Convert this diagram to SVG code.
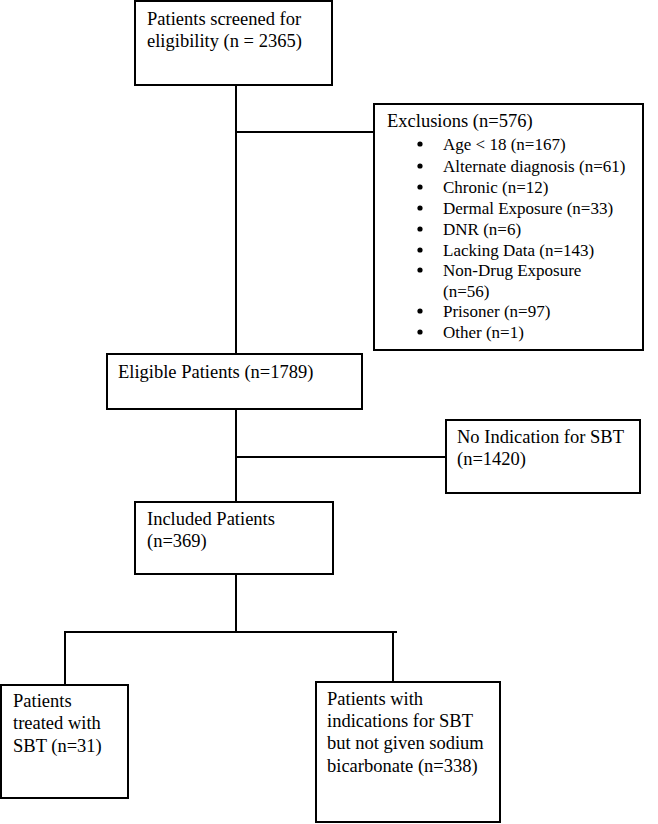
<svg xmlns="http://www.w3.org/2000/svg" width="658" height="824" viewBox="0 0 658 824">
<style>
.box{fill:#fff;stroke:#000;stroke-width:2}
.ln{fill:none;stroke:#000;stroke-width:2}
text{font-family:'Liberation Serif',Tinos,'Times New Roman','DejaVu Serif',serif;font-size:18.5px;fill:#000}
text.it{font-size:17px}
.dot{fill:#000}
</style>
<rect width="658" height="824" fill="#fff"/>
<g id="connectors">
<path class="ln" d="M236 85 V354"/>
<path class="ln" d="M236 132 H374"/>
<path class="ln" d="M236 409 V502"/>
<path class="ln" d="M236 457 H446"/>
<path class="ln" d="M236 574 V632"/>
<path class="ln" d="M64 632 H397"/>
<path class="ln" d="M65 631 V688"/>
<path class="ln" d="M393 631 V682"/>
</g>
<g id="screened">
<rect class="box" x="135" y="1" width="197" height="84"/>
<text x="147" y="25">Patients screened for</text>
<text x="147" y="47">eligibility (n = 2365)</text>
</g>
<g id="exclusions">
<rect class="box" x="374" y="104" width="269" height="246"/>
<text x="387" y="127">Exclusions (n=576)</text>
<circle class="dot" cx="420" cy="144" r="2.6"/><text class="it" x="443" y="150">Age &lt; 18 (n=167)</text>
<circle class="dot" cx="420" cy="166" r="2.6"/><text class="it" x="443" y="172">Alternate diagnosis (n=61)</text>
<circle class="dot" cx="420" cy="187" r="2.6"/><text class="it" x="443" y="193">Chronic (n=12)</text>
<circle class="dot" cx="420" cy="208" r="2.6"/><text class="it" x="443" y="214">Dermal Exposure (n=33)</text>
<circle class="dot" cx="420" cy="229" r="2.6"/><text class="it" x="443" y="235">DNR (n=6)</text>
<circle class="dot" cx="420" cy="250" r="2.6"/><text class="it" x="443" y="256">Lacking Data (n=143)</text>
<circle class="dot" cx="420" cy="270" r="2.6"/><text class="it" x="443" y="276">Non-Drug Exposure</text>
<text class="it" x="443" y="297">(n=56)</text>
<circle class="dot" cx="420" cy="311" r="2.6"/><text class="it" x="443" y="317">Prisoner (n=97)</text>
<circle class="dot" cx="420" cy="332" r="2.6"/><text class="it" x="443" y="338">Other (n=1)</text>
</g>
<g id="eligible">
<rect class="box" x="107" y="354" width="255" height="55"/>
<text x="118" y="378">Eligible Patients (n=1789)</text>
</g>
<g id="no-indication">
<rect class="box" x="446" y="420" width="194" height="73"/>
<text x="457" y="443">No Indication for SBT</text>
<text x="457" y="465">(n=1420)</text>
</g>
<g id="included">
<rect class="box" x="135" y="502" width="198" height="72"/>
<text x="147" y="525">Included Patients</text>
<text x="147" y="547">(n=369)</text>
</g>
<g id="treated">
<rect class="box" x="1" y="685" width="127" height="113"/>
<text x="13" y="707">Patients</text>
<text x="13" y="729">treated with</text>
<text x="13" y="752">SBT (n=31)</text>
</g>
<g id="not-given">
<rect class="box" x="316" y="682" width="184" height="140"/>
<text x="327" y="705">Patients with</text>
<text x="327" y="727">indications for SBT</text>
<text x="327" y="749">but not given sodium</text>
<text x="327" y="772">bicarbonate (n=338)</text>
</g>
</svg>
